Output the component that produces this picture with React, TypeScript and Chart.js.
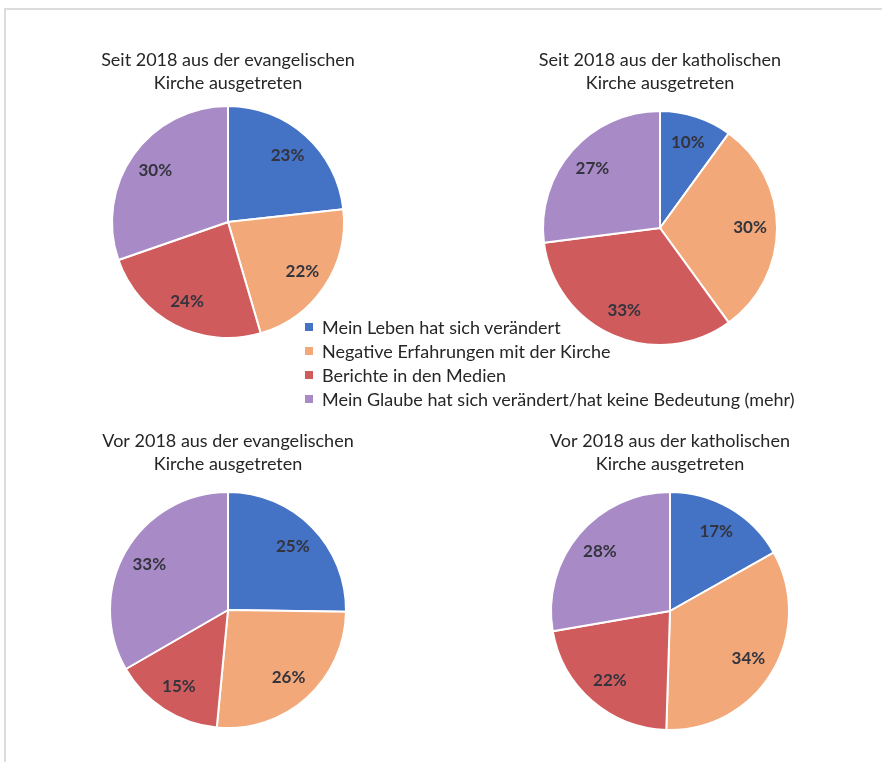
import React, { useEffect, useRef } from "react";
import { Chart, registerables } from "chart.js";

Chart.register(...registerables);

const categories = [
  "Mein Leben hat sich verändert",
  "Negative Erfahrungen mit der Kirche",
  "Berichte in den Medien",
  "Mein Glaube hat sich verändert/hat keine Bedeutung (mehr)",
];
const colors = ["#4472C4", "#F2A878", "#D05B5C", "#A88BC6"];

const seitEvangelisch = [23, 22, 24, 30];
const seitKatholisch = [10, 30, 33, 27];
const vorEvangelisch = [25, 26, 15, 33];
const vorKatholisch = [17, 34, 22, 28];

const titleSeitEv = ["Seit 2018 aus der evangelischen", "Kirche ausgetreten"];
const titleSeitKa = ["Seit 2018 aus der katholischen", "Kirche ausgetreten"];
const titleVorEv = ["Vor 2018 aus der evangelischen", "Kirche ausgetreten"];
const titleVorKa = ["Vor 2018 aus der katholischen", "Kirche ausgetreten"];

const FONT = "Lato, 'Open Sans', sans-serif";
const LINE_H = 23;
const TITLE_PB = 6;

const labelPlugin = {
  id: "pctLabels",
  afterDatasetsDraw(chart: any) {
    const ctx = chart.ctx;
    const meta = chart.getDatasetMeta(0);
    const data = chart.data.datasets[0].data;
    ctx.save();
    ctx.font = "bold 17px " + FONT;
    ctx.fillStyle = "#34343e";
    ctx.textAlign = "center";
    ctx.textBaseline = "middle";
    meta.data.forEach((arc: any, i: number) => {
      const p = arc.getProps(["x", "y", "startAngle", "endAngle", "outerRadius"], true);
      const mid = (p.startAngle + p.endAngle) / 2;
      const d = p.outerRadius * 0.77;
      ctx.fillText(data[i] + "%", p.x + Math.cos(mid) * d, p.y + Math.sin(mid) * d);
    });
    ctx.restore();
  },
};

type PieProps = { values: number[]; title: string[]; cx: number; cy: number; r: number; titleY: number };

function Pie({ values, title, cx, cy, r, titleY }: PieProps) {
  const ref = useRef<HTMLCanvasElement>(null);
  const top = Math.round(titleY - LINE_H / 2);
  const height = Math.round(2 * cy - 2 * top - 2 * LINE_H - TITLE_PB);
  const width = 320;
  const left = cx - width / 2;
  useEffect(() => {
    const chart = new Chart(ref.current as HTMLCanvasElement, {
      type: "pie",
      data: {
        labels: categories,
        datasets: [
          {
            data: values,
            backgroundColor: colors,
            borderColor: "#ffffff",
            borderWidth: 2,
          },
        ],
      },
      options: {
        animation: false,
        responsive: false,
        radius: r,
        rotation: 0,
        plugins: {
          legend: { display: false },
          tooltip: { enabled: false },
          title: {
            display: true,
            text: title,
            color: "#262626",
            font: { family: FONT, size: 18, weight: "normal", lineHeight: LINE_H / 18 },
            padding: { top: 0, bottom: TITLE_PB },
          },
        },
      } as any,
      plugins: [labelPlugin],
    });
    return () => chart.destroy();
  }, []);
  return (
    <canvas
      ref={ref}
      width={width}
      height={height}
      style={{ position: "absolute", left, top, width, height }}
    />
  );
}

export default function App() {
  return (
    <div style={{ position: "fixed", left: 0, top: 0, width: 882, height: 762, background: "#fff", overflow: "hidden" }}>
      <div
        style={{
          position: "absolute",
          left: 4,
          top: 8,
          right: 0,
          bottom: 0,
          borderTop: "2px solid #dcdcdc",
          borderLeft: "2px solid #dcdcdc",
        }}
      />
      <Pie values={seitEvangelisch} title={titleSeitEv} cx={228} cy={222} r={116} titleY={60} />
      <Pie values={seitKatholisch} title={titleSeitKa} cx={660} cy={228} r={117} titleY={60} />
      <Pie values={vorEvangelisch} title={titleVorEv} cx={228} cy={610} r={118} titleY={441} />
      <Pie values={vorKatholisch} title={titleVorKa} cx={670} cy={611} r={119} titleY={441} />
      <div
        style={{
          position: "absolute",
          left: 305,
          top: 315,
          fontFamily: FONT,
          fontSize: 18,
          color: "#262626",
          lineHeight: "24px",
        }}
      >
        {categories.map((c, i) => (
          <div key={c} style={{ display: "flex", alignItems: "center", whiteSpace: "nowrap" }}>
            <span style={{ display: "inline-block", width: 8, height: 8, background: colors[i], marginRight: 9 }} />
            <span>{c}</span>
          </div>
        ))}
      </div>
    </div>
  );
}
